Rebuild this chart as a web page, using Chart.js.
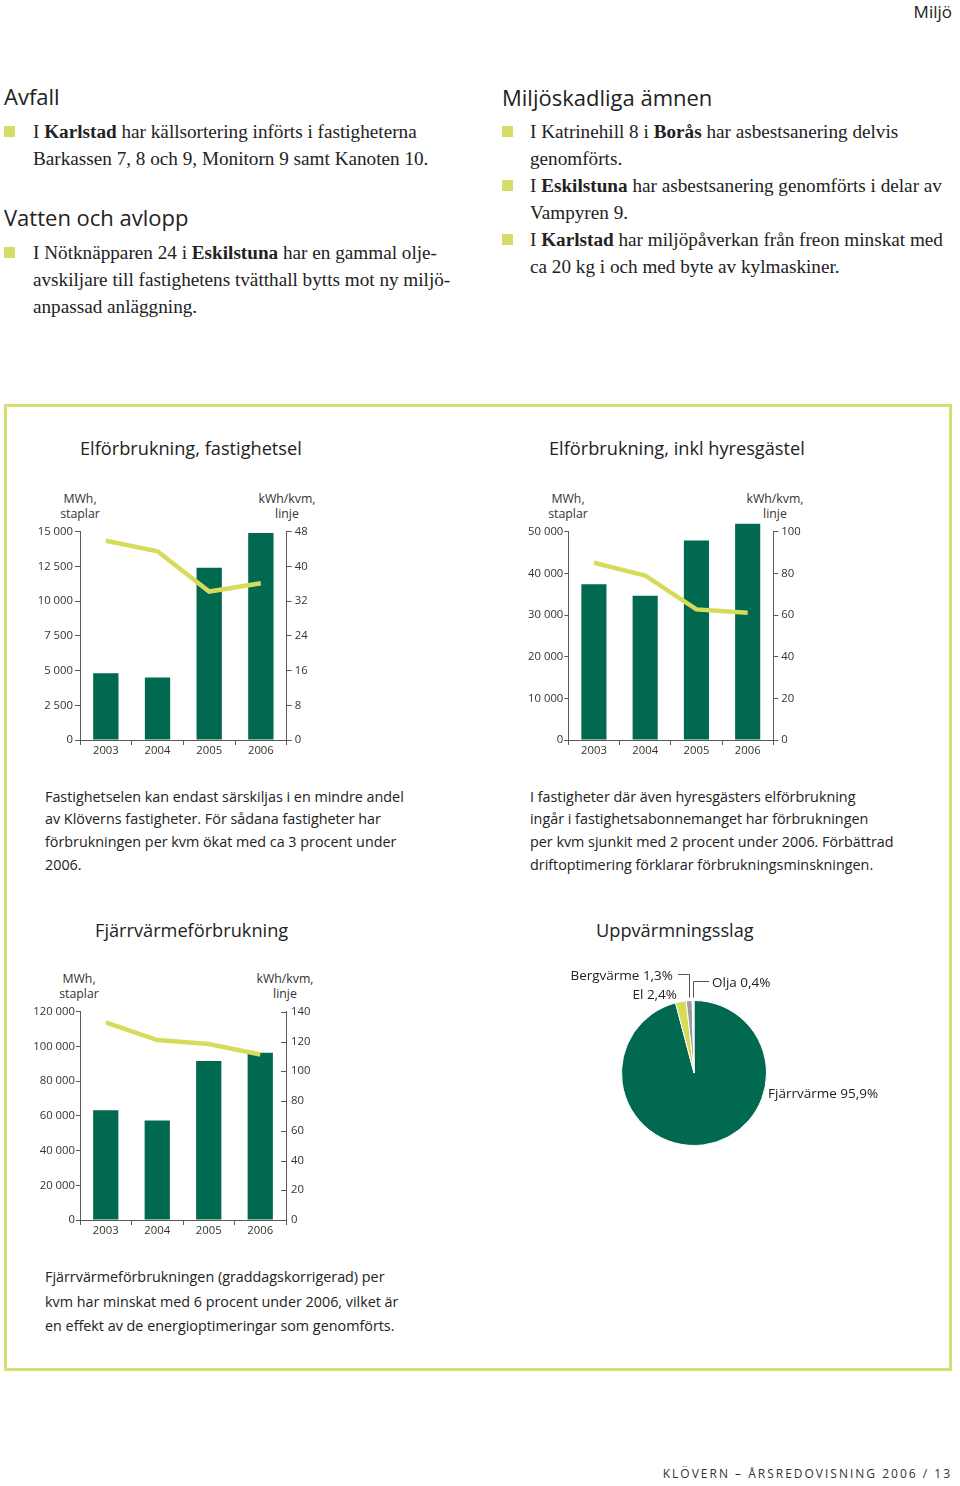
<!DOCTYPE html>
<html><head><meta charset="utf-8">
<script src="https://cdn.jsdelivr.net/npm/chart.js@4/dist/chart.umd.min.js"></script>
<style>
html,body{margin:0;padding:0;background:#fff;}
body{width:960px;height:1486px;position:relative;overflow:hidden;color:#222;}
.a{position:absolute;white-space:nowrap;}
.sans{font-family:"Open Sans",sans-serif;}
.h{font-family:"Open Sans",sans-serif;font-size:22px;line-height:30px;color:#222;}
.b{font-family:"Liberation Serif",serif;font-size:19.2px;line-height:27px;color:#222;}
.b b{font-weight:bold;}
.sq{position:absolute;width:11px;height:11px;background:#d6dc6a;}
.ct{font-family:"Open Sans",sans-serif;font-size:18.2px;line-height:24px;color:#222;}
.ax{font-family:"Open Sans",sans-serif;font-size:12.3px;line-height:15px;color:#333;text-align:center;}
.p{font-family:"Open Sans",sans-serif;font-size:14.35px;line-height:22.7px;color:#222;}
.pl{font-family:"Open Sans",sans-serif;font-size:13.5px;line-height:18px;color:#222;}
canvas{position:absolute;}
#box{position:absolute;left:4px;top:404px;width:942px;height:961px;border:3px solid #d8df72;}
</style></head><body>
<script>
// ---------- data ----------
const categories = ['2003','2004','2005','2006'];
const elFastBars = [4800, 4500, 12400, 14900];
const elFastLine = [45.9, 43.5, 34.2, 36.1];
const elInklBars = [37400, 34600, 47900, 51900];
const elInklLine = [85.1, 78.9, 62.7, 61.1];
const fjvBars = [63200, 57400, 91600, 96400];
const fjvLine = [132.9, 121.0, 118.3, 111.3];
const pieLabels = ['Fjärrvärme','El','Bergvärme','Olja'];
const pieValues = [95.9, 2.4, 1.3, 0.4];
const elFastLeftTicks = [0, 15000, 2500];
const elFastRightTicks = [0, 48, 8];
const elInklLeftTicks = [0, 50000, 10000];
const elInklRightTicks = [0, 100, 20];
const fjvLeftTicks = [0, 120000, 20000];
const fjvRightTicks = [0, 140, 20];
</script>

<div class="a sans" style="right:8px;top:0px;font-size:17px;line-height:24px;">Miljö</div>

<div class="a h" style="left:4px;top:81px;">Avfall</div>
<div class="sq" style="left:4px;top:126px;"></div>
<div class="a b" style="left:33px;top:117.5px;">I <b>Karlstad</b> har källsortering införts i fastigheterna<br>Barkassen 7, 8 och 9, Monitorn 9 samt Kanoten 10.</div>

<div class="a h" style="left:4px;top:202px;">Vatten och avlopp</div>
<div class="sq" style="left:4px;top:247px;"></div>
<div class="a b" style="left:33px;top:238.5px;">I Nötknäpparen 24 i <b>Eskilstuna</b> har en gammal olje-<br>avskiljare till fastighetens tvätthall bytts mot ny miljö-<br>anpassad anläggning.</div>

<div class="a h" style="left:502px;top:82px;">Miljöskadliga ämnen</div>
<div class="sq" style="left:502px;top:126px;"></div>
<div class="sq" style="left:502px;top:180px;"></div>
<div class="sq" style="left:502px;top:234px;"></div>
<div class="a b" style="left:530px;top:117.5px;">I Katrinehill 8 i <b>Borås</b> har asbestsanering delvis<br>genomförts.<br>I <b>Eskilstuna</b> har asbestsanering genomförts i delar av<br>Vampyren 9.<br>I <b>Karlstad</b> har miljöpåverkan från freon minskat med<br>ca 20 kg i och med byte av kylmaskiner.</div>

<div id="box"></div>

<div class="a ct" style="left:80px;top:436px;">Elförbrukning, fastighetsel</div>
<div class="a ct" style="left:549px;top:436px;">Elförbrukning, inkl hyresgästel</div>
<div class="a ct" style="left:95px;top:918px;">Fjärrvärmeförbrukning</div>
<div class="a ct" style="left:596px;top:918px;">Uppvärmningsslag</div>

<div class="a ax" style="left:40px;width:80px;top:490.5px;">MWh,<br>staplar</div>
<div class="a ax" style="left:247px;width:80px;top:490.5px;">kWh/kvm,<br>linje</div>
<div class="a ax" style="left:528px;width:80px;top:490.5px;">MWh,<br>staplar</div>
<div class="a ax" style="left:735px;width:80px;top:490.5px;">kWh/kvm,<br>linje</div>
<div class="a ax" style="left:39px;width:80px;top:970.5px;">MWh,<br>staplar</div>
<div class="a ax" style="left:245px;width:80px;top:970.5px;">kWh/kvm,<br>linje</div>

<canvas id="c1" width="310" height="245" style="left:20px;top:520px;"></canvas>
<canvas id="c2" width="310" height="245" style="left:508px;top:520px;"></canvas>
<canvas id="c3" width="310" height="245" style="left:20px;top:1000px;"></canvas>
<canvas id="c4" width="330" height="200" style="left:560px;top:960px;"></canvas>

<div class="a p" style="left:45px;top:785.6px;">Fastighetselen kan endast särskiljas i en mindre andel<br>av Klöverns fastigheter. För sådana fastigheter har<br>förbrukningen per kvm ökat med ca 3 procent under<br>2006.</div>
<div class="a p" style="left:530px;top:785.6px;">I fastigheter där även hyresgästers elförbrukning<br>ingår i fastighetsabonnemanget har förbrukningen<br>per kvm sjunkit med 2 procent under 2006. Förbättrad<br>driftoptimering förklarar förbrukningsminskningen.</div>
<div class="a p" style="left:45px;top:1265px;line-height:24.5px;">Fjärrvärmeförbrukningen (graddagskorrigerad) per<br>kvm har minskat med 6 procent under 2006, vilket är<br>en effekt av de energioptimeringar som genomförts.</div>

<div class="a pl" style="right:287px;top:966px;">Bergvärme 1,3%</div>
<div class="a pl" style="right:283px;top:985px;">El 2,4%</div>
<div class="a pl" style="left:712px;top:973px;">Olja 0,4%</div>
<div class="a pl" style="left:768px;top:1084px;">Fjärrvärme 95,9%</div>

<div class="a sans" style="right:8px;top:1465px;font-size:12px;line-height:18px;letter-spacing:2.0px;color:#333;">KLÖVERN – ÅRSREDOVISNING 2006 / 13</div>

<script>
const GREEN = '#00694f', YEL = '#d6dc5a', AXC = '#5a5a5a';
const fmt = v => String(v).replace(/\B(?=(\d{3})+(?!\d))/g, ' ');
const tickFont = {family:'"Open Sans", sans-serif', size:11.3};

const innerTicks = {
  id:'innerTicks',
  afterDraw(chart){
    const sc = chart.scales.y1;
    if(!chart.options.plugins.innerTicks || !chart.options.plugins.innerTicks.on) return;
    const ctx = chart.ctx;
    ctx.save(); ctx.strokeStyle = AXC; ctx.lineWidth = 1;
    sc.ticks.forEach((t,i)=>{
      const y = Math.round(sc.getPixelForTick(i)) + 0.5;
      ctx.beginPath(); ctx.moveTo(sc.left - 5, y); ctx.lineTo(sc.left, y); ctx.stroke();
    });
    ctx.restore();
  }
};

function combo(id, bars, line, lt, rt, leftW, rightW, inner, lpad, ltick){
  new Chart(document.getElementById(id), {
    data:{
      labels: categories,
      datasets:[
        {type:'line', data: line, yAxisID:'y1', borderColor: YEL, borderWidth: 4.5,
         pointRadius:0, tension:0, order:0, borderCapStyle:'butt', clip:false},
        {type:'bar', data: bars, yAxisID:'y', backgroundColor: GREEN,
         barPercentage:0.49, categoryPercentage:1, order:1, clip:false}
      ]
    },
    options:{
      responsive:false, devicePixelRatio:1, animation:false,
      layout:{padding:{top:11.7, left:0, right:0, bottom:0}},
      plugins:{legend:{display:false}, tooltip:{enabled:false}, innerTicks:{on:inner}},
      scales:{
        x:{ grid:{drawOnChartArea:false, tickLength:5, color:AXC, offset:true},
            border:{display:true, color:AXC},
            ticks:{font:tickFont, color:'#333', padding:-1, maxRotation:0},
            afterFit(s){ s.height = 25; } },
        y:{ position:'left', min: lt[0], max: lt[1],
            grid:{drawOnChartArea:false, tickLength:ltick, color:AXC},
            border:{display:true, color:AXC},
            ticks:{stepSize: lt[2], font:tickFont, color:'#333', padding:lpad, callback: v => fmt(v)},
            afterFit(s){ s.width = leftW; } },
        y1:{ position:'right', min: rt[0], max: rt[1],
            grid:{drawOnChartArea:false, tickLength: inner ? 0 : 5, drawTicks: !inner, color:AXC},
            border:{display:true, color:AXC},
            ticks:{stepSize: rt[2], font:tickFont, color:'#333', padding: inner ? 5 : 3},
            afterFit(s){ s.width = rightW; } }
      }
    },
    plugins:[innerTicks]
  });
}
combo('c1', elFastBars, elFastLine, elFastLeftTicks, elFastRightTicks, 60, 43.3, false, 2, 5);
combo('c2', elInklBars, elInklLine, elInklLeftTicks, elInklRightTicks, 60.3, 44.7, false, 1, 4);
combo('c3', fjvBars, fjvLine, fjvLeftTicks, fjvRightTicks, 60, 44, true, 1, 4);

// leader lines for the small pie slices: [slice index, label y, label end x] in canvas coords
const leaderDefs = [
  {index:2, y:14.5, x:118},
  {index:3, y:21.5, x:149}
];
const leaders = {
  id:'leaders',
  afterDatasetsDraw(chart){
    const meta = chart.getDatasetMeta(0), ctx = chart.ctx;
    ctx.save(); ctx.strokeStyle = '#555'; ctx.lineWidth = 1;
    leaderDefs.forEach(d=>{
      const arc = meta.data[d.index];
      const mid = (arc.startAngle + arc.endAngle)/2;
      const x = Math.round(arc.x + Math.cos(mid)*(arc.outerRadius)) + 0.5;
      const y = arc.y + Math.sin(mid)*(arc.outerRadius + 3);
      ctx.beginPath(); ctx.moveTo(x, y); ctx.lineTo(x, d.y); ctx.lineTo(d.x, d.y); ctx.stroke();
    });
    ctx.restore();
  }
};
new Chart(document.getElementById('c4'), {
  type:'pie',
  data:{ labels: pieLabels, datasets:[{ data: pieValues,
    backgroundColor:[GREEN, YEL, '#9c9c9c', '#eeeeee'],
    borderColor:'#ffffff', borderWidth:1, hoverOffset:0, offset:0 }]},
  options:{
    responsive:false, devicePixelRatio:1, animation:false,
    layout:{padding:{left:61, top:40, right:123, bottom:14}},
    plugins:{legend:{display:false}, tooltip:{enabled:false}}
  },
  plugins:[leaders]
});
</script>
</body></html>
